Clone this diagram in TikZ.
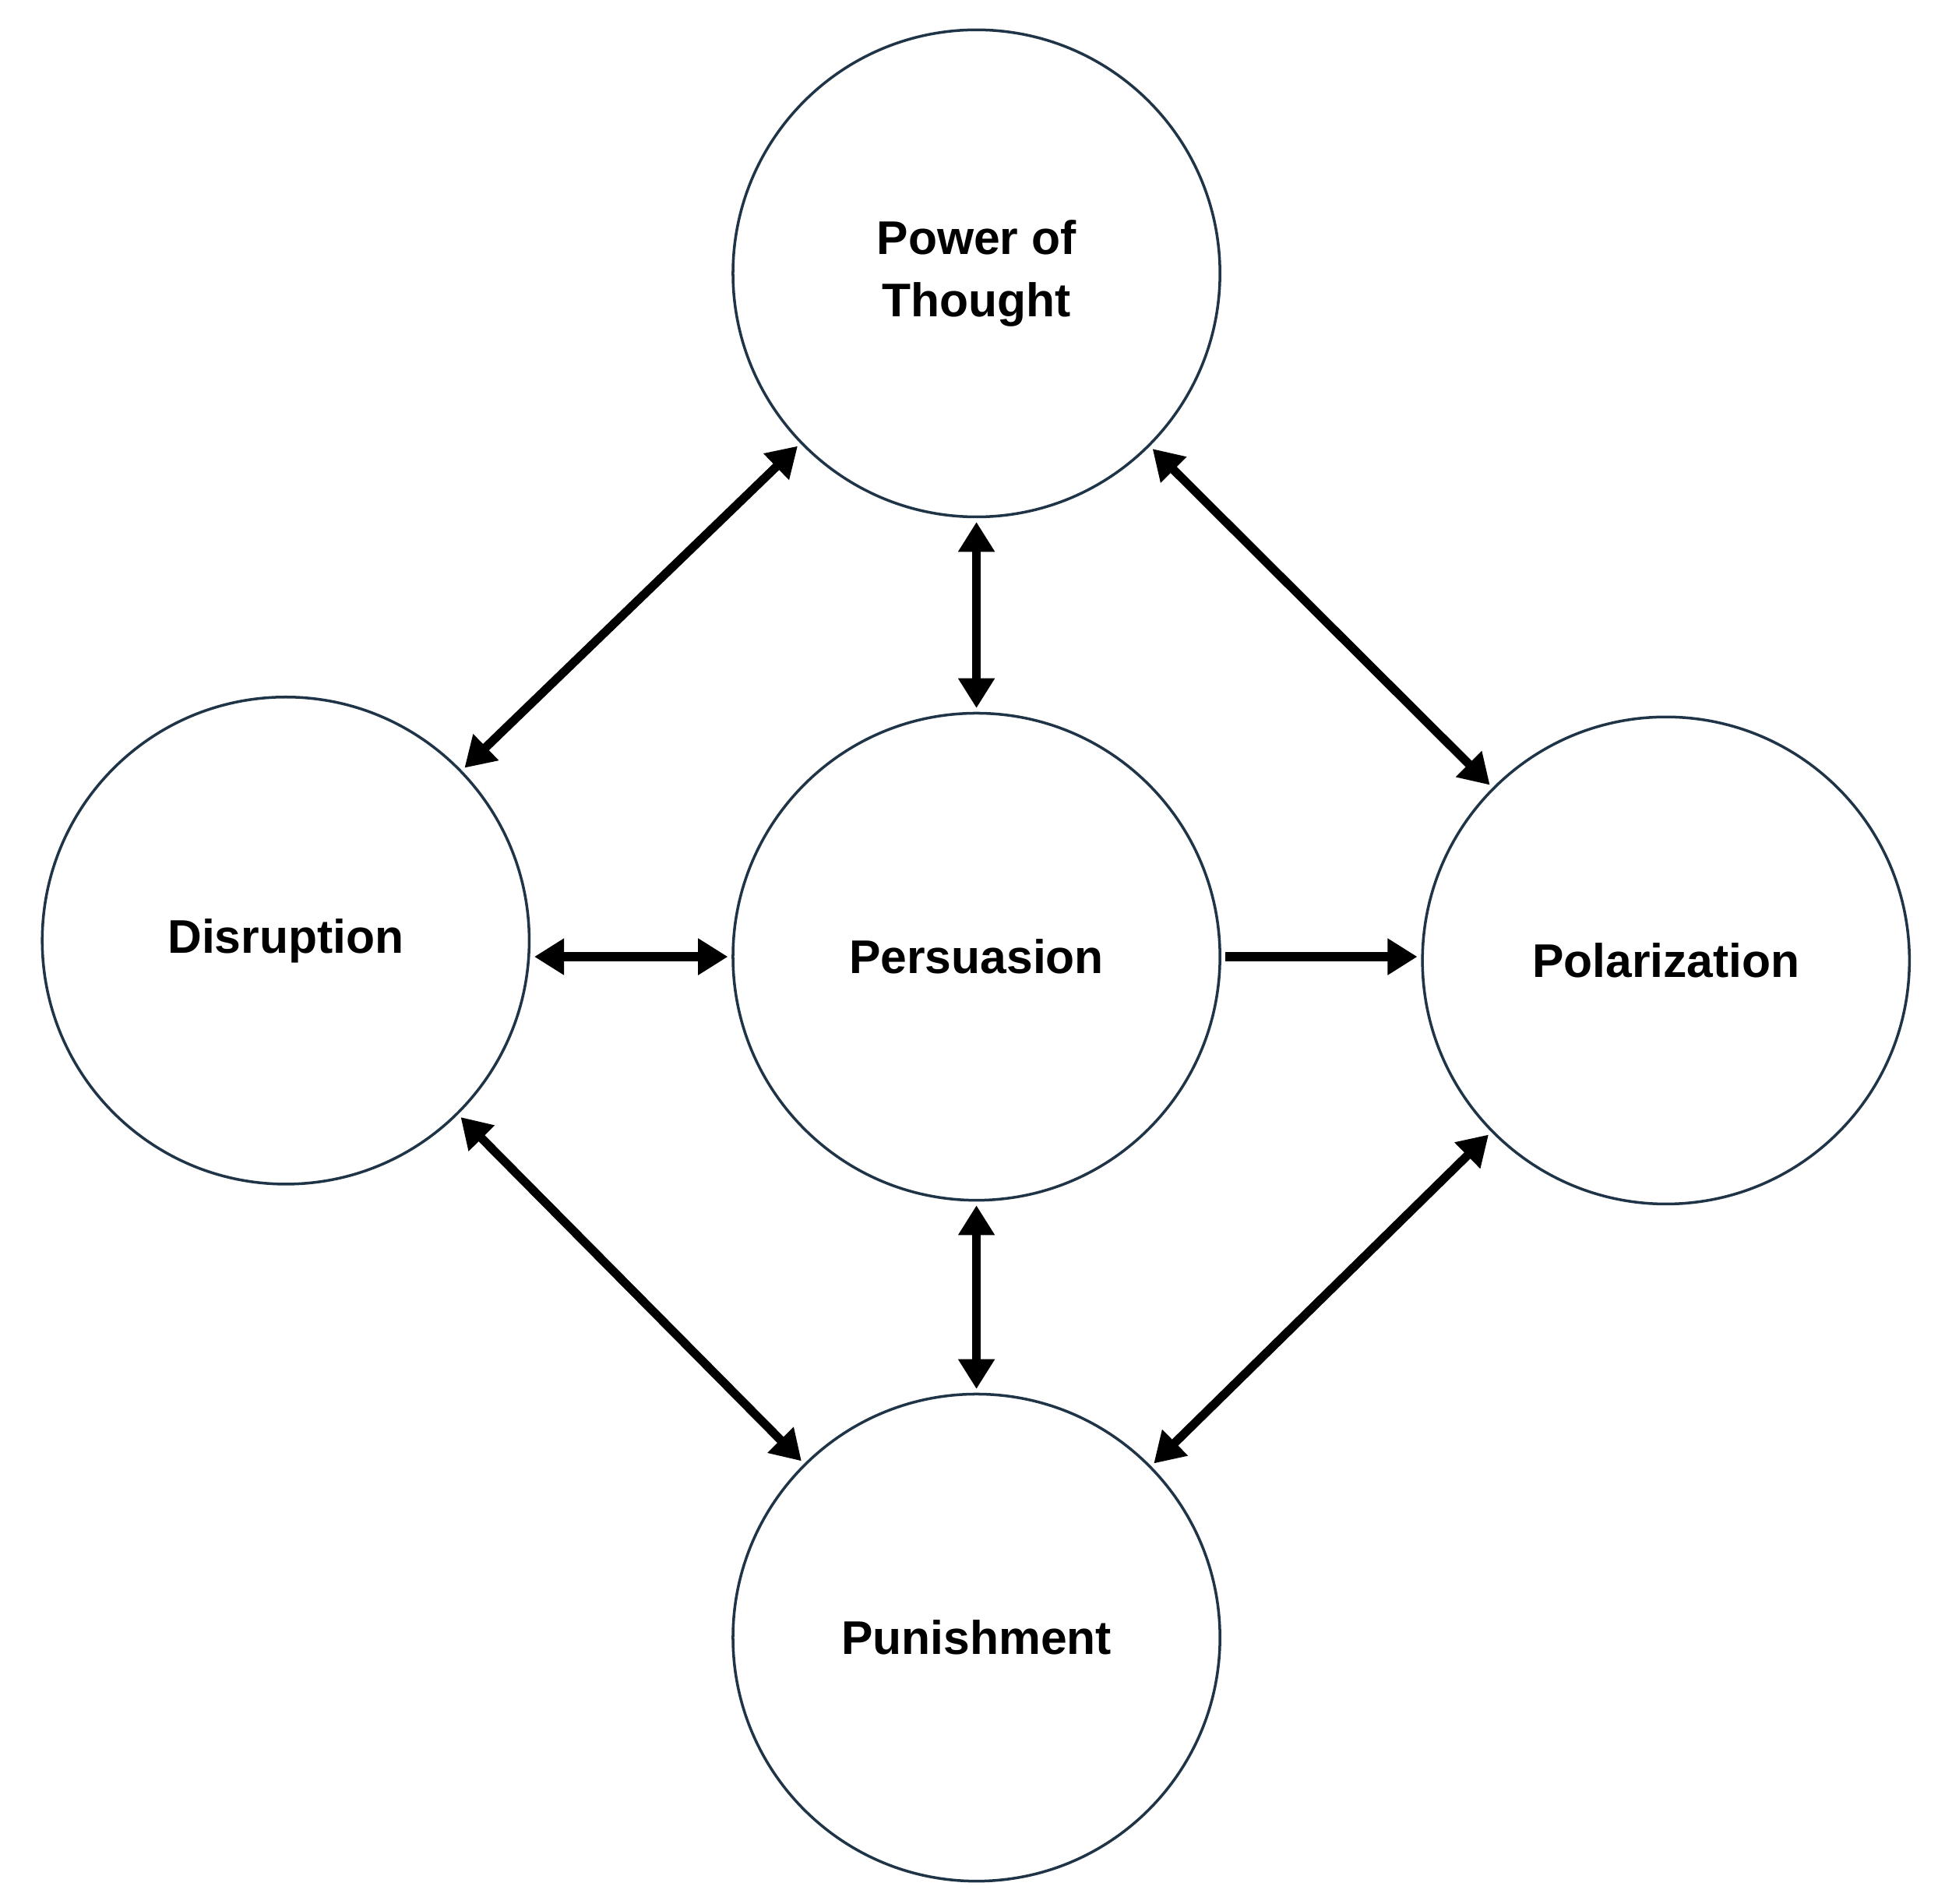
\documentclass[tikz,border=0pt]{standalone}
\usepackage{fontspec}
\setmainfont{Liberation Sans}
\usetikzlibrary{arrows.meta}
\definecolor{ring}{HTML}{1F3447}
\begin{document}
\begin{tikzpicture}[x=1pt,y=-1pt,
  c/.style={circle,draw=ring,line width=2.2pt,minimum size=392pt,inner sep=0pt,align=center,font=\fontsize{38}{50}\selectfont\bfseries},
  a/.style={line width=7pt,shorten <=3pt,shorten >=3pt,-{Triangle[length=24pt,width=28pt]}},
  b/.style={a,{Triangle[length=24pt,width=28pt]}-{Triangle[length=24pt,width=28pt]}}]
\useasboundingbox (0,0) rectangle (1560,1532);
\node[c] (t) at (786,220) {Power of\\Thought};
\node[c] (d) at (230,757) {Disruption};
\node[c] (p) at (786,770) {Persuasion};
\node[c] (z) at (1341,773) {Polarization};
\node[c] (u) at (786,1318) {Punishment};
\draw[b] (t) -- (d);
\draw[b] (t) -- (p);
\draw[b] (t) -- (z);
\draw[b] (d.east |- p.west) -- (p.west);
\draw[a] (p.east) -- (p.east -| z.west);
\draw[b] (d) -- (u);
\draw[b] (p) -- (u);
\draw[b] (z) -- (u);
\end{tikzpicture}
\end{document}
